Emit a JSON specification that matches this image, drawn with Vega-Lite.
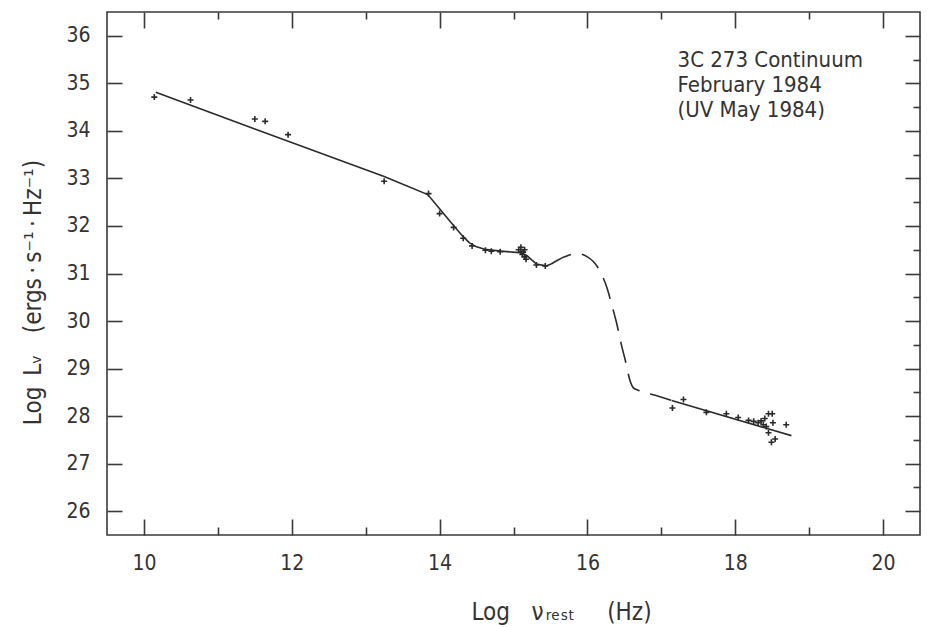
{
  "$schema": "https://vega.github.io/schema/vega-lite/v6.json",
  "width": 813,
  "height": 523,
  "autosize": {"type": "none"},
  "padding": {"left": 107, "top": 12, "right": 9, "bottom": 92},
  "background": "white",
  "config": {
    "view": {"stroke": "#3a3a3a", "strokeWidth": 1.6},
    "font": "DejaVu Sans Condensed, Liberation Sans Narrow, DejaVu Sans, sans-serif",
    "axis": {
      "domain": false,
      "grid": false,
      "tickColor": "#3a3a3a",
      "tickWidth": 1.6,
      "labelColor": "#333333",
      "labelFontSize": 21,
      "titleColor": "#333333",
      "titleFontSize": 24,
      "titleFontWeight": "normal"
    }
  },
  "datasets": {
    "curve": [
      {"logNu": 10.16, "logL": 34.81, "part": "radio-optical"},
      {"logNu": 11.5, "logL": 34.04, "part": "radio-optical"},
      {"logNu": 13.25, "logL": 33.04, "part": "radio-optical"},
      {"logNu": 13.84, "logL": 32.66, "part": "radio-optical"},
      {"logNu": 14.0, "logL": 32.36, "part": "radio-optical"},
      {"logNu": 14.2, "logL": 31.99, "part": "radio-optical"},
      {"logNu": 14.31, "logL": 31.79, "part": "radio-optical"},
      {"logNu": 14.4, "logL": 31.65, "part": "radio-optical"},
      {"logNu": 14.5, "logL": 31.56, "part": "radio-optical"},
      {"logNu": 14.61, "logL": 31.51, "part": "radio-optical"},
      {"logNu": 14.83, "logL": 31.47, "part": "radio-optical"},
      {"logNu": 15.08, "logL": 31.44, "part": "radio-optical"},
      {"logNu": 15.18, "logL": 31.38, "part": "radio-optical"},
      {"logNu": 15.25, "logL": 31.28, "part": "radio-optical"},
      {"logNu": 15.31, "logL": 31.2, "part": "radio-optical"},
      {"logNu": 15.44, "logL": 31.16, "part": "radio-optical"},
      {"logNu": 15.51, "logL": 31.2, "part": "radio-optical"},
      {"logNu": 15.51, "logL": 31.2, "part": "EUV gap"},
      {"logNu": 15.69, "logL": 31.35, "part": "EUV gap"},
      {"logNu": 15.85, "logL": 31.42, "part": "EUV gap"},
      {"logNu": 16.0, "logL": 31.35, "part": "EUV gap"},
      {"logNu": 16.17, "logL": 31.05, "part": "EUV gap"},
      {"logNu": 16.26, "logL": 30.72, "part": "EUV gap"},
      {"logNu": 16.34, "logL": 30.28, "part": "EUV gap"},
      {"logNu": 16.39, "logL": 29.99, "part": "EUV gap"},
      {"logNu": 16.46, "logL": 29.5, "part": "EUV gap"},
      {"logNu": 16.51, "logL": 29.19, "part": "EUV gap"},
      {"logNu": 16.58, "logL": 28.73, "part": "EUV gap"},
      {"logNu": 16.62, "logL": 28.6, "part": "EUV gap"},
      {"logNu": 16.68, "logL": 28.55, "part": "EUV gap"},
      {"logNu": 16.96, "logL": 28.42, "part": "EUV gap"},
      {"logNu": 17.14, "logL": 28.33, "part": "EUV gap"},
      {"logNu": 17.14, "logL": 28.33, "part": "X-ray"},
      {"logNu": 18.76, "logL": 27.59, "part": "X-ray"}
    ],
    "obs": [
      {"logNu": 10.14, "logL": 34.71},
      {"logNu": 10.63, "logL": 34.65},
      {"logNu": 11.5, "logL": 34.25},
      {"logNu": 11.64, "logL": 34.2},
      {"logNu": 11.95, "logL": 33.92},
      {"logNu": 13.25, "logL": 32.94},
      {"logNu": 13.85, "logL": 32.68},
      {"logNu": 14.0, "logL": 32.26},
      {"logNu": 14.19, "logL": 31.97},
      {"logNu": 14.32, "logL": 31.74},
      {"logNu": 14.44, "logL": 31.58},
      {"logNu": 14.62, "logL": 31.49},
      {"logNu": 14.7, "logL": 31.47},
      {"logNu": 14.82, "logL": 31.46},
      {"logNu": 15.07, "logL": 31.5},
      {"logNu": 15.1, "logL": 31.45},
      {"logNu": 15.12, "logL": 31.4},
      {"logNu": 15.15, "logL": 31.35},
      {"logNu": 15.17, "logL": 31.3},
      {"logNu": 15.1, "logL": 31.55},
      {"logNu": 15.15, "logL": 31.5},
      {"logNu": 15.13, "logL": 31.45},
      {"logNu": 15.31, "logL": 31.18},
      {"logNu": 15.43, "logL": 31.16},
      {"logNu": 17.15, "logL": 28.17},
      {"logNu": 17.3, "logL": 28.35},
      {"logNu": 17.61, "logL": 28.08},
      {"logNu": 17.88, "logL": 28.05},
      {"logNu": 18.04, "logL": 27.97},
      {"logNu": 18.18, "logL": 27.91},
      {"logNu": 18.25, "logL": 27.89},
      {"logNu": 18.31, "logL": 27.86},
      {"logNu": 18.35, "logL": 27.9},
      {"logNu": 18.38, "logL": 27.82},
      {"logNu": 18.4, "logL": 27.95},
      {"logNu": 18.42, "logL": 27.78},
      {"logNu": 18.45, "logL": 28.05},
      {"logNu": 18.5, "logL": 28.05},
      {"logNu": 18.51, "logL": 27.86},
      {"logNu": 18.69, "logL": 27.82},
      {"logNu": 18.45, "logL": 27.65},
      {"logNu": 18.49, "logL": 27.45},
      {"logNu": 18.54, "logL": 27.52}
    ],
    "note": [
      {"line1": "3C 273 Continuum", "line2": "February 1984", "line3": "(UV May 1984)"}
    ]
  },
  "resolve": {"axis": {"x": "independent", "y": "independent"}},
  "layer": [
    {
      "data": {"name": "curve"},
      "transform": [{"filter": "datum.part !== 'EUV gap'"}],
      "mark": {"type": "line", "interpolate": "linear", "color": "#2b2b2b", "strokeWidth": 1.6},
      "encoding": {
        "x": {
          "field": "logNu", "type": "quantitative",
          "scale": {"domain": [9.5, 20.5], "nice": false, "zero": false},
          "axis": {
            "orient": "bottom",
            "values": [10, 11, 12, 13, 14, 15, 16, 17, 18, 19, 20],
            "format": "d",
            "labelExpr": "datum.value % 2 === 0 ? datum.label : ''",
            "tickSize": {"condition": {"test": "datum.value % 2 === 0", "value": -16}, "value": -8},
            "labelPadding": 33,
            "title": "Log\u2002\u2002ν\u200aᵣₑₛₜ\u2002\u2002\u2002(Hz)",
            "titleX": 454,
            "titleY": 84,
            "titleBaseline": "alphabetic",
            "titleAlign": "center"
          }
        },
        "y": {
          "field": "logL", "type": "quantitative",
          "scale": {"domain": [25.5, 36.5], "nice": false, "zero": false},
          "axis": {
            "orient": "left",
            "values": [26, 26.5, 27, 27.5, 28, 28.5, 29, 29.5, 30, 30.5, 31, 31.5, 32, 32.5, 33, 33.5, 34, 34.5, 35, 35.5, 36],
            "format": "d",
            "labelExpr": "datum.value % 1 === 0 ? datum.label : ''",
            "tickSize": {"condition": {"test": "datum.value % 1 === 0", "value": -15}, "value": -7},
            "labelPadding": 32,
            "title": "Log\u2002Lᵥ\u2002\u2002(ergs\u2009·\u2009s⁻¹\u2009·\u2009Hz⁻¹)",
            "titleX": -67,
            "titleY": 280,
            "titleBaseline": "alphabetic",
            "titleAlign": "center",
            "titleAngle": -90
          }
        },
        "detail": {"field": "part", "type": "nominal"}
      }
    },
    {
      "data": {"name": "curve"},
      "transform": [{"filter": "datum.part === 'EUV gap'"}],
      "mark": {"type": "line", "interpolate": "monotone", "color": "#2b2b2b", "strokeWidth": 1.6, "strokeDash": [22, 11]},
      "encoding": {
        "x": {"field": "logNu", "type": "quantitative", "axis": null},
        "y": {"field": "logL", "type": "quantitative", "axis": null}
      }
    },
    {
      "data": {"name": "obs"},
      "mark": {"type": "point", "shape": "M-1,0L1,0M0,-1L0,1", "size": 36, "filled": false, "color": "#2b2b2b", "strokeWidth": 1.6, "opacity": 1},
      "encoding": {
        "x": {
          "field": "logNu", "type": "quantitative",
          "axis": {
            "orient": "top",
            "values": [10, 11, 12, 13, 14, 15, 16, 17, 18, 19, 20],
            "labels": false,
            "title": null,
            "tickSize": {"condition": {"test": "datum.value % 2 === 0", "value": -16}, "value": -7}
          }
        },
        "y": {
          "field": "logL", "type": "quantitative",
          "axis": {
            "orient": "right",
            "values": [26, 26.5, 27, 27.5, 28, 28.5, 29, 29.5, 30, 30.5, 31, 31.5, 32, 32.5, 33, 33.5, 34, 34.5, 35, 35.5, 36],
            "labels": false,
            "title": null,
            "tickSize": {"condition": {"test": "datum.value % 1 === 0", "value": -15}, "value": -7}
          }
        }
      }
    },
    {
      "data": {"name": "note"},
      "mark": {"type": "text", "align": "left", "baseline": "alphabetic", "fontSize": 22, "lineHeight": 25, "color": "#333333"},
      "encoding": {
        "x": {"datum": 17.22, "type": "quantitative", "axis": null},
        "y": {"datum": 35.35, "type": "quantitative", "axis": null},
        "text": {"value": ["3C 273 Continuum", "February 1984", "(UV May 1984)"]}
      }
    }
  ]
}
